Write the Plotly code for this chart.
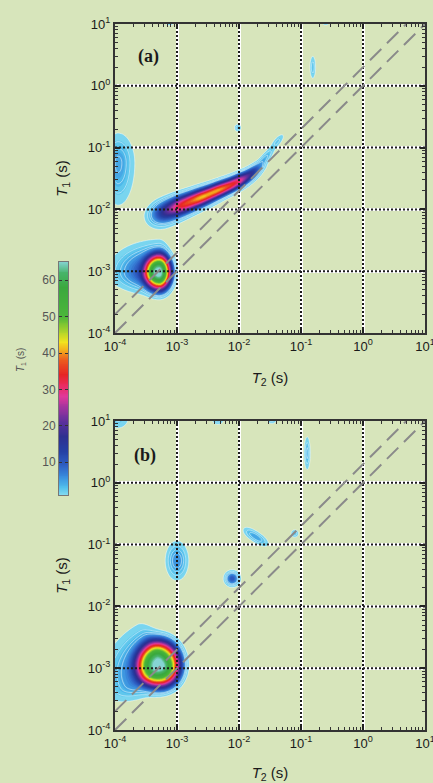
import numpy as np
import plotly.graph_objects as go

# ---------------- data ----------------
decade_exp = [-4, -3, -2, -1, 0, 1]
tick_text = ["10<sup>-4</sup>", "10<sup>-3</sup>", "10<sup>-2</sup>",
             "10<sup>-1</sup>", "10<sup>0</sup>", "10<sup>1</sup>"]
ratio_lines = [1.0, 2.0]          # dashed guides T1/T2 = 1 and 2

# colour map (value -> colour)
cmap_values = [1, 3, 6, 9, 13, 17, 21, 25, 28, 31, 34, 38, 41, 43, 46, 50, 58, 62, 65]
cmap_colors = ["#86dcf0", "#52c0ec", "#3a8ede", "#2f60c4", "#2540a4", "#2e3090",
               "#5a309c", "#a0349e", "#e0389a", "#ea2c62", "#e62424", "#ec5a1e",
               "#f4b41c", "#f2e41e", "#a8d22c", "#4cb63a", "#3aa83e", "#48b46a", "#86d4d4"]
cbar_ticks = [10, 20, 30, 40, 50, 60]

# panel (a) peaks: log10 T2 centre, log10 T1 centre, amplitude,
# spreads along (neg/pos side), spreads across (neg/pos side), orientation (deg), profile exponent
a_logT2 = [-3.29, -3.29, -3.20, -2.92, -2.62, -2.32, -2.02, -1.78, -1.57, -1.38, -3.95, -2.02, -0.81, -3.12, -0.60]
a_logT1 = [-3.02, -3.02, -2.05, -1.93, -1.81, -1.68, -1.55, -1.40, -1.16, -0.90, -1.25, -0.68, 0.30, 1.02, 1.02]
a_amp   = [50, 16, 13, 27, 32, 32, 26, 11, 3.5, 2.5, 5.0, 3.0, 3.0, 2.5, 2.2]
a_su_n  = [0.174, 0.355, 0.15, 0.17, 0.17, 0.17, 0.17, 0.13, 0.12, 0.10, 0.12, 0.035, 0.03, 0.05, 0.04]
a_su_p  = [0.153, 0.097, 0.17, 0.17, 0.17, 0.17, 0.15, 0.13, 0.12, 0.10, 0.15, 0.035, 0.03, 0.05, 0.04]
a_sv_n  = [0.215, 0.161, 0.11, 0.093, 0.082, 0.07, 0.063, 0.055, 0.042, 0.038, 0.38, 0.04, 0.12, 0.03, 0.03]
a_sv_p  = [0.218, 0.226, 0.11, 0.093, 0.082, 0.07, 0.063, 0.055, 0.042, 0.038, 0.27, 0.04, 0.12, 0.03, 0.03]
a_theta = [0, 0, 23, 23, 23, 25, 30, 40, 50, 50, 0, 0, 0, 0, 0]
a_shape = [3, 2, 2, 2, 2, 2, 2, 2, 2, 2, 2, 2, 2, 2, 2]

# panel (b) peaks
b_logT2 = [-3.27, -3.27, -3.00, -2.11, -1.80, -1.66, -1.10, -0.90, -2.34, -1.47, -3.95]
b_logT1 = [-2.95, -2.95, -1.26, -1.55, -0.83, -0.92, -0.82, 0.48, 1.02, 1.02, 1.05]
b_amp   = [50, 16, 6.0, 10.0, 3.2, 3.2, 3.0, 4.0, 3.0, 3.0, 2.5]
b_su_n  = [0.292, 0.42, 0.10, 0.067, 0.10, 0.10, 0.04, 0.03, 0.06, 0.05, 0.12]
b_su_p  = [0.258, 0.13, 0.10, 0.067, 0.10, 0.10, 0.04, 0.03, 0.06, 0.05, 0.12]
b_sv_n  = [0.282, 0.16, 0.17, 0.067, 0.05, 0.05, 0.04, 0.16, 0.05, 0.04, 0.12]
b_sv_p  = [0.306, 0.32, 0.17, 0.067, 0.05, 0.05, 0.04, 0.16, 0.05, 0.04, 0.12]
b_theta = [0, 30, 0, 0, -35, -35, 0, 0, 0, 0, 0]
b_shape = [3.5, 2, 2, 2, 2, 2, 2, 2, 2, 2, 2]

# ---------------- build surfaces ----------------
lx = np.linspace(-4, 1, 251)
ly = np.linspace(-4, 1, 251)


def surface(t2, t1, amp, sun, sup, svn, svp, th, shp):
    X, Y = np.meshgrid(lx, ly)
    Z = np.zeros_like(X)
    for x0, y0, A, a1, a2, b1, b2, ang, p in zip(t2, t1, amp, sun, sup, svn, svp, th, shp):
        t = np.radians(ang)
        dx, dy = X - x0, Y - y0
        u = dx * np.cos(t) + dy * np.sin(t)
        v = -dx * np.sin(t) + dy * np.cos(t)
        su = np.where(u < 0, a1, a2)
        sv = np.where(v < 0, b1, b2)
        q = (u / su) ** 2 + (v / sv) ** 2
        Z += A * np.exp(-0.5 * q ** (p / 2.0))
    return np.round(Z, 2)


Za = surface(a_logT2, a_logT1, a_amp, a_su_n, a_su_p, a_sv_n, a_sv_p, a_theta, a_shape)
Zb = surface(b_logT2, b_logT1, b_amp, b_su_n, b_su_p, b_sv_n, b_sv_p, b_theta, b_shape)
T2 = 10 ** lx
T1 = 10 ** ly

# colourscales
c_start, c_end, c_size = 1.0, 64.0, 1.0
nc = int(np.floor((c_end - c_start) / c_size)) + 1
v_lo = c_start - c_size / 2
v_hi = c_start + (nc - 0.5) * c_size
fill_cs = [[0.0, "rgba(0,0,0,0)"], [(0.9 - v_lo) / (v_hi - v_lo), "rgba(0,0,0,0)"]]
for v, c in zip(cmap_values, cmap_colors):
    p = min(1.0, max(0.0, (v - v_lo) / (v_hi - v_lo)))
    if p > fill_cs[-1][0]:
        fill_cs.append([p, c])
if fill_cs[-1][0] < 1:
    fill_cs.append([1.0, cmap_colors[-1]])

bar_cs = [[(v - cmap_values[0]) / (cmap_values[-1] - cmap_values[0]), c]
          for v, c in zip(cmap_values, cmap_colors)]

BG = "rgb(215,229,187)"
fig = go.Figure()

for Z, xa, ya in [(Za, "x", "y"), (Zb, "x2", "y2")]:
    fig.add_trace(go.Contour(
        x=T2, y=T1, z=Z, xaxis=xa, yaxis=ya, colorscale=fill_cs,
        contours=dict(start=c_start, end=c_end, size=c_size, coloring="fill", showlines=False),
        line=dict(width=0), showscale=False, hoverinfo="skip"))
    fig.add_trace(go.Contour(
        x=T2, y=T1, z=Z, xaxis=xa, yaxis=ya,
        contours=dict(start=1.0, end=5.0, size=1.2, coloring="none"),
        line=dict(width=0.6, color="rgba(255,255,255,0.8)"), showscale=False, hoverinfo="skip"))
    gx, gy = [], []
    for k in decade_exp[1:-1]:
        gx += [10.0 ** k, 10.0 ** k, None, 10.0 ** decade_exp[0], 10.0 ** decade_exp[-1], None]
        gy += [10.0 ** decade_exp[0], 10.0 ** decade_exp[-1], None, 10.0 ** k, 10.0 ** k, None]
    fig.add_trace(go.Scatter(x=gx, y=gy, xaxis=xa, yaxis=ya, mode="lines",
                             line=dict(color="#1c1c1c", width=2, dash="2px,2px"),
                             hoverinfo="skip", showlegend=False))
    for r in ratio_lines:
        lo, hi = 10.0 ** decade_exp[0], 10.0 ** decade_exp[-1]
        fig.add_trace(go.Scatter(x=[lo, hi / r], y=[lo * r, hi], xaxis=xa, yaxis=ya, mode="lines",
                                 line=dict(color="#8a8a8a", width=2, dash="16px,8px"),
                                 hoverinfo="skip", showlegend=False))

bar_vals = np.linspace(cmap_values[0], cmap_values[-1], 257)
fig.add_trace(go.Heatmap(x=[0], y=bar_vals, z=[[v] for v in bar_vals], xaxis="x3", yaxis="y3",
                         colorscale=bar_cs, zmin=cmap_values[0], zmax=cmap_values[-1],
                         showscale=False, hoverinfo="skip"))

W, H = 433, 783


def px_x(a, b):
    return [a / W, b / W]


def px_y(top, bot):
    return [1 - bot / H, 1 - top / H]


tickfont = dict(family="Liberation Sans, Arial, sans-serif", size=13, color="#1a1a1a")
titlefont = dict(family="Liberation Sans, Arial, sans-serif", size=15, color="#1a1a1a")
axis_common = dict(
    type="log", range=[decade_exp[0], decade_exp[-1]],
    tickmode="array", tickvals=[10.0 ** k for k in decade_exp], ticktext=tick_text,
    ticks="inside", ticklen=5, tickwidth=1.5, tickcolor="#222",
    showline=True, linecolor="#333", linewidth=2, mirror="ticks",
    showgrid=True, gridcolor="white", gridwidth=3, zeroline=False,
    tickfont=tickfont, ticklabeloverflow="allow", automargin=False,
    minor=dict(ticks="inside", ticklen=3, tickwidth=1.2, tickcolor="#333", dtick="D1", showgrid=False),
)

layout = dict(
    width=W, height=H, autosize=False, margin=dict(l=0, r=0, t=0, b=0, pad=0, autoexpand=False),
    paper_bgcolor=BG, plot_bgcolor=BG, showlegend=False,
    xaxis=dict(axis_common, domain=px_x(115, 425), anchor="y",
               title=dict(text="<i>T</i><sub>2</sub> (s)", font=titlefont, standoff=20)),
    yaxis=dict(axis_common, domain=px_y(24, 333), anchor="x",
               title=dict(text="<i>T</i><sub>1</sub> (s)", font=titlefont, standoff=17)),
    xaxis2=dict(axis_common, domain=px_x(115, 425), anchor="y2",
                title=dict(text="<i>T</i><sub>2</sub> (s)", font=titlefont, standoff=20)),
    yaxis2=dict(axis_common, domain=px_y(421, 730), anchor="x2",
                title=dict(text="<i>T</i><sub>1</sub> (s)", font=titlefont, standoff=17)),
    xaxis3=dict(domain=px_x(59, 68), anchor="y3", showticklabels=False, ticks="",
                showgrid=False, zeroline=False, showline=True, linecolor="#777",
                linewidth=1, mirror=True, automargin=False),
    yaxis3=dict(domain=px_y(262, 495), anchor="x3", range=[cmap_values[0], cmap_values[-1]],
                tickmode="array", tickvals=cbar_ticks, ticks="inside", ticklen=3,
                tickcolor="#333", showgrid=False, zeroline=False, showline=True,
                linecolor="#777", linewidth=1, mirror="ticks", automargin=False,
                tickfont=dict(family="Liberation Sans, Arial, sans-serif", size=12, color="#555")),
    annotations=[
        dict(text="<b>(a)</b>", x=148 / W, y=1 - 57 / H, xref="paper", yref="paper", showarrow=False,
             xanchor="center", yanchor="middle",
             font=dict(family="Liberation Serif, Times New Roman, serif", size=18, color="#1a1a1a")),
        dict(text="<b>(b)</b>", x=145 / W, y=1 - 455 / H, xref="paper", yref="paper", showarrow=False,
             xanchor="center", yanchor="middle",
             font=dict(family="Liberation Serif, Times New Roman, serif", size=18, color="#1a1a1a")),
        dict(text="<i>T</i><sub>1</sub> (s)", x=21 / W, y=1 - 360 / H, xref="paper", yref="paper",
             showarrow=False, textangle=-90, xanchor="center", yanchor="middle",
             font=dict(family="Liberation Sans, Arial, sans-serif", size=10, color="#555")),
    ],
)
fig.update_layout(layout)
fig.write_html("out.html", config={"responsive": False})
